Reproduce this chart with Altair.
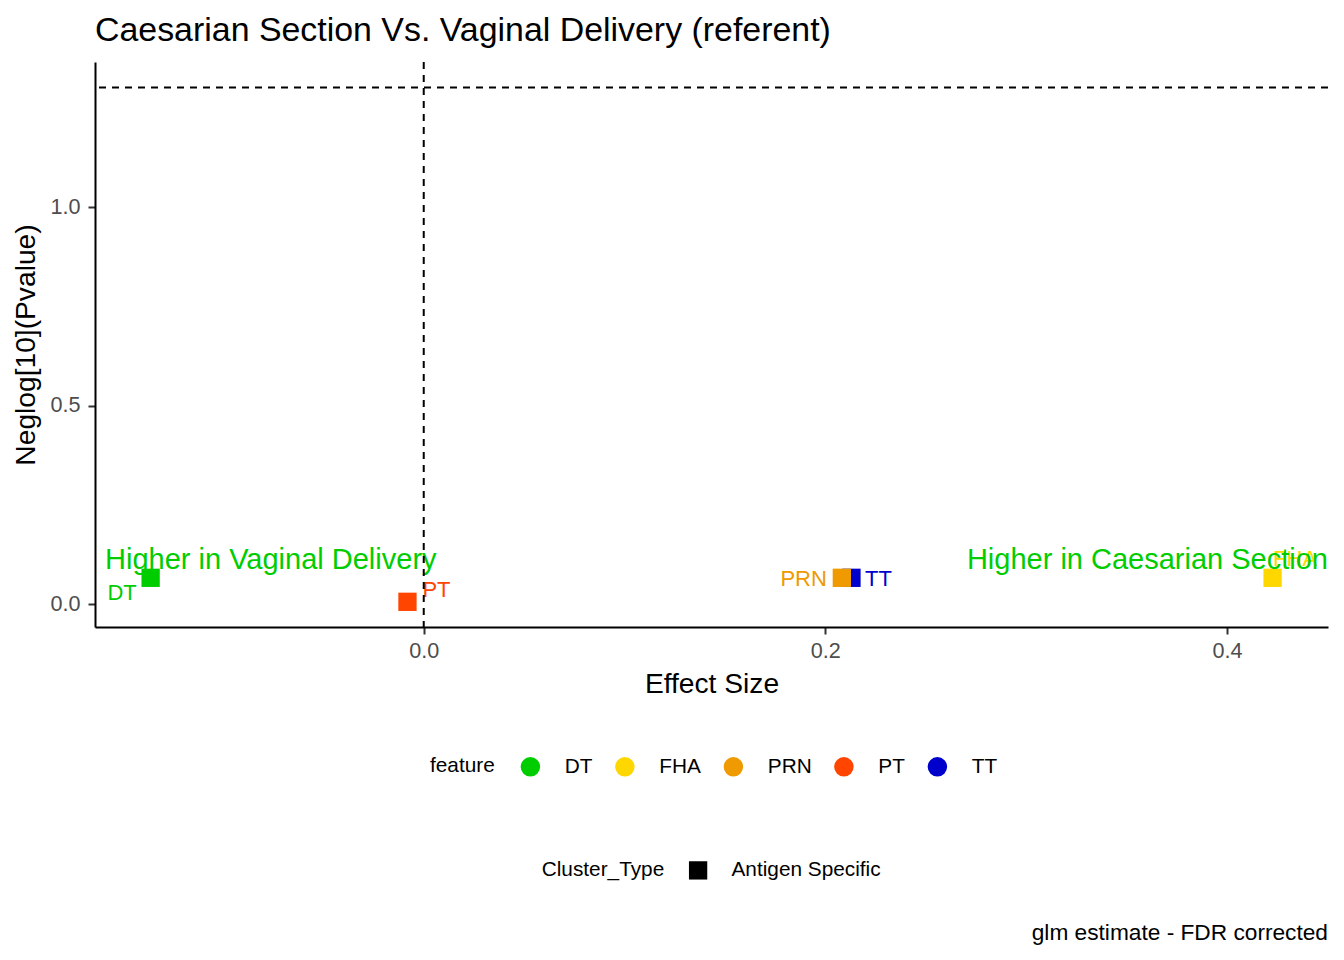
import altair as alt
import pandas as pd

# ---- data ----
features = ["DT", "FHA", "PRN", "PT", "TT"]
effect_size = [-0.136, 0.4227, 0.2082, -0.0081, 0.2130]
neglog_p = [0.0667, 0.0667, 0.0667, 0.0063, 0.0667]
cluster_type = ["Antigen Specific"] * 5
feature_colors = ["#00CD00", "#FFD700", "#EE9A00", "#FF4500", "#0000CD"]
draw_order = ["DT", "FHA", "TT", "PRN", "PT"]

x_domain = [-0.1637, 0.4503]
y_domain = [-0.0571, 1.365]
x_ticks = [0.0, 0.2, 0.4]
y_ticks = [0.0, 0.5, 1.0]

p_threshold = [1.30103]   # -log10(0.05)
effect_ref = [0.0]

ann_text = ["Higher in Vaginal Delivery", "Higher in Caesarian Section"]
ann_x = [-0.1587, 0.4503]
ann_y = [0.111, 0.111]
ann_align = ["left", "right"]

title_text = "Caesarian Section Vs. Vaginal Delivery (referent)"
x_title = "Effect Size"
y_title = "Neglog[10](Pvalue)"
caption = "glm estimate - FDR corrected"

# label placement (pixel offsets from point, repel-like)
label_style = {
    "DT": dict(dx=-28.5, dy=15, align="center"),
    "PT": dict(dx=29, dy=-11.5, align="center"),
    "PRN": dict(dx=-15, dy=1, align="right"),
    "TT": dict(dx=13.6, dy=1, align="left"),
    "FHA": dict(dx=22.5, dy=-18.5, align="center"),
}

FONT = "Liberation Sans"
W, H = 1233, 565
LEG_FS = 20.8

df = pd.DataFrame({
    "feature": features,
    "effect": effect_size,
    "neglog": neglog_p,
    "Cluster_Type": cluster_type,
})
df["feature"] = pd.Categorical(df["feature"], categories=draw_order, ordered=True)
df = df.sort_values("feature").reset_index(drop=True)
df["feature"] = df["feature"].astype(str)

color_map = dict(zip(features, feature_colors))

xs = alt.Scale(domain=x_domain, nice=False, zero=False)
ys = alt.Scale(domain=y_domain, nice=False, zero=False)

x_axis = alt.Axis(values=x_ticks, format=".1f", title=x_title, grid=False,
                  titlePadding=9, labelPadding=6)
y_axis = alt.Axis(values=y_ticks, format=".1f", title=y_title, grid=False,
                  titlePadding=9, labelPadding=8)

points = alt.Chart(df).mark_point(filled=True, size=335, opacity=1, strokeWidth=0).encode(
    x=alt.X("effect:Q", scale=xs, axis=x_axis),
    y=alt.Y("neglog:Q", scale=ys, axis=y_axis),
    color=alt.Color(
        "feature:N",
        scale=alt.Scale(domain=features, range=feature_colors),
        legend=alt.Legend(
            title="feature", orient="none", legendX=335, legendY=694,
            direction="horizontal", titleOrient="left", columns=5,
            symbolType="circle", symbolSize=380, symbolStrokeWidth=0,
            symbolOpacity=1, labelFontSize=LEG_FS, titleFontSize=LEG_FS,
            titleFontWeight="normal", labelOffset=24, columnPadding=21.5,
            titlePadding=25, titleColor="black", labelColor="black",
            titleAnchor="middle", titleBaseline="middle",
            labelFont=FONT, titleFont=FONT,
        ),
    ),
    shape=alt.Shape(
        "Cluster_Type:N",
        scale=alt.Scale(domain=["Antigen Specific"], range=["square"]),
        legend=alt.Legend(
            title="Cluster_Type", orient="none", legendX=446.7, legendY=798,
            direction="horizontal", titleOrient="left",
            symbolSize=335, symbolFillColor="black", symbolStrokeColor="black",
            symbolStrokeWidth=0, symbolOpacity=1,
            labelFontSize=LEG_FS, titleFontSize=LEG_FS, titleFontWeight="normal",
            labelOffset=23, titlePadding=23, titleColor="black",
            labelColor="black", titleAnchor="middle", titleBaseline="middle",
            labelFont=FONT, titleFont=FONT,
        ),
    ),
)

label_layers = []
for f in features:
    st = label_style[f]
    label_layers.append(
        alt.Chart(df).transform_filter(alt.datum.feature == f)
        .mark_text(fontSize=22, font=FONT, color=color_map[f], baseline="middle",
                   align=st["align"], dx=st["dx"], dy=st["dy"])
        .encode(x=alt.X("effect:Q", scale=xs), y=alt.Y("neglog:Q", scale=ys),
                text="feature:N")
    )

ann_df = pd.DataFrame({"label": ann_text, "effect": ann_x, "neglog": ann_y,
                       "align": ann_align})
ann_layers = []
for i in range(len(ann_text)):
    ann_layers.append(
        alt.Chart(ann_df.iloc[[i]]).mark_text(
            fontSize=29, font=FONT, color="#00CD00", baseline="middle",
            align=ann_align[i])
        .encode(x=alt.X("effect:Q", scale=xs), y=alt.Y("neglog:Q", scale=ys),
                text="label:N")
    )

hline = alt.Chart(pd.DataFrame({"neglog": p_threshold})).mark_rule(
    color="black", strokeDash=[7, 6], strokeWidth=2
).encode(y=alt.Y("neglog:Q", scale=ys))

vline = alt.Chart(pd.DataFrame({"effect": effect_ref})).mark_rule(
    color="black", strokeDash=[7, 6], strokeWidth=2
).encode(x=alt.X("effect:Q", scale=xs))

cap = alt.Chart(pd.DataFrame({"t": [caption]})).mark_text(
    align="right", baseline="middle", fontSize=22.7, font=FONT, color="black"
).encode(x=alt.value(W), y=alt.value(871.3), text="t:N")

chart = alt.layer(points, *label_layers, *ann_layers, hline, vline, cap).properties(
    width=W, height=H,
    title=alt.TitleParams(title_text, anchor="start", frame="group",
                          fontSize=33.9, fontWeight="normal", color="black",
                          font=FONT, offset=13),
    autosize=alt.AutoSizeParams(type="none"),
    padding={"left": 87, "top": 54, "right": 8, "bottom": 320},
).configure(font=FONT).configure_view(stroke=None).configure_axis(
    domainColor="black", domainWidth=2, tickColor="#333333", tickWidth=2,
    tickSize=7, labelFontSize=21.6, labelColor="#4D4D4D", labelFont=FONT,
    titleFont=FONT, titleFontSize=28.2, titleFontWeight="normal",
    titleColor="black",
)

chart.save("out.html", embed_options={"renderer": "svg", "actions": False})
